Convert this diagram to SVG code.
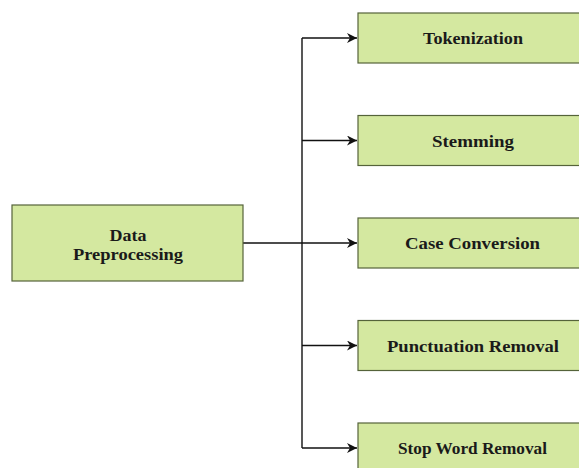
<svg xmlns="http://www.w3.org/2000/svg" width="579" height="468" viewBox="0 0 579 468">
<style>
.box{fill:#d4e8a0;stroke:#55633a;stroke-width:1.2}
.lbl{font-family:"Liberation Serif","Times New Roman",serif;font-weight:bold;font-size:17px;fill:#1a1a1a;text-anchor:middle}
.ln{fill:none;stroke:#111;stroke-width:1.4}
</style>
<defs>
<marker id="arr" viewBox="0 0 10 10" refX="10" refY="5" markerWidth="10" markerHeight="10" markerUnits="userSpaceOnUse" orient="auto">
<path d="M0,0 L10,5 L0,10 L3,5 Z" fill="#111"/>
</marker>
</defs>
<rect width="579" height="468" fill="#fff"/>
<g id="connectors">
<path class="ln" d="M243,243 H357" marker-end="url(#arr)"/>
<path class="ln" d="M302,38 V448"/>
<path class="ln" d="M302,38 H357" marker-end="url(#arr)"/>
<path class="ln" d="M302,140.5 H357" marker-end="url(#arr)"/>
<path class="ln" d="M302,345.5 H357" marker-end="url(#arr)"/>
<path class="ln" d="M302,448 H357" marker-end="url(#arr)"/>
</g>
<g id="data-preprocessing">
<rect class="box" x="12" y="205" width="231" height="76"/>
<text class="lbl" x="128" y="240.5" textLength="37" lengthAdjust="spacingAndGlyphs">Data</text>
<text class="lbl" x="128" y="260" textLength="110" lengthAdjust="spacingAndGlyphs">Preprocessing</text>
</g>
<g id="tokenization">
<rect class="box" x="358" y="13" width="230" height="50"/>
<text class="lbl" x="473" y="44" textLength="100" lengthAdjust="spacingAndGlyphs">Tokenization</text>
</g>
<g id="stemming">
<rect class="box" x="358" y="115.5" width="230" height="50"/>
<text class="lbl" x="473" y="146.5" textLength="82" lengthAdjust="spacingAndGlyphs">Stemming</text>
</g>
<g id="case-conversion">
<rect class="box" x="358" y="218" width="230" height="50"/>
<text class="lbl" x="472.5" y="249" textLength="135" lengthAdjust="spacingAndGlyphs">Case Conversion</text>
</g>
<g id="punctuation-removal">
<rect class="box" x="358" y="320.5" width="230" height="50"/>
<text class="lbl" x="473" y="351.5" textLength="172" lengthAdjust="spacingAndGlyphs">Punctuation Removal</text>
</g>
<g id="stop-word-removal">
<rect class="box" x="358" y="423" width="230" height="50"/>
<text class="lbl" x="472.5" y="454" textLength="149" lengthAdjust="spacingAndGlyphs">Stop Word Removal</text>
</g>
</svg>
